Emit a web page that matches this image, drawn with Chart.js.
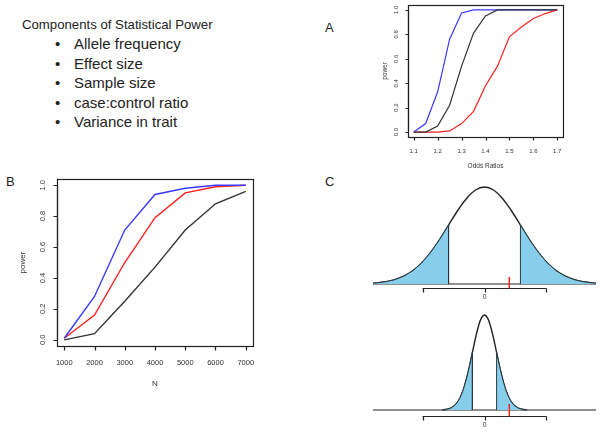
<!DOCTYPE html>
<html><head><meta charset="utf-8">
<script src="https://cdn.jsdelivr.net/npm/chart.js@4/dist/chart.umd.min.js"></script>
<style>
html,body{margin:0;padding:0;background:#fff;width:604px;height:436px;overflow:hidden;}
canvas{position:absolute;left:0;top:0;}
.t{position:absolute;font-family:"Liberation Sans",Arial,sans-serif;color:#222;white-space:nowrap;}
.b{position:absolute;left:0;}
.i{position:absolute;left:19px;}
</style></head><body>
<div class="t" style="left:22px;top:17px;font-size:13.2px;">Components of Statistical Power</div>
<div class="t" style="left:55px;top:35px;font-size:15px;">
<div class="b" style="top:0px">•</div><div class="i" style="top:0px">Allele frequency</div>
<div class="b" style="top:19.5px">•</div><div class="i" style="top:19.5px">Effect size</div>
<div class="b" style="top:39px">•</div><div class="i" style="top:39px">Sample size</div>
<div class="b" style="top:58.5px">•</div><div class="i" style="top:58.5px">case:control ratio</div>
<div class="b" style="top:78px">•</div><div class="i" style="top:78px">Variance in trait</div>
</div>
<div class="t" style="left:325px;top:20px;font-size:13px;">A</div>
<div class="t" style="left:6px;top:174px;font-size:13px;">B</div>
<div class="t" style="left:325px;top:174px;font-size:13px;">C</div>
<canvas id="cA" width="604" height="436"></canvas>
<canvas id="cB" width="604" height="436"></canvas>
<canvas id="cC1" width="604" height="436"></canvas>
<canvas id="cC2" width="604" height="436"></canvas>
<script>
// ---- Panel A data ----
const oddsRatios = [1.1,1.15,1.2,1.25,1.3,1.35,1.4,1.45,1.5,1.55,1.6,1.65,1.7];
const powerA_blue  = [0,0.07,0.33,0.76,0.975,1,1,1,1,1,1,1,1];
const powerA_black = [0,0,0.05,0.22,0.54,0.81,0.95,1,1,1,1,1,1];
const powerA_red   = [0,0,0,0.01,0.07,0.17,0.38,0.54,0.78,0.86,0.93,0.97,1];
const ticksA_x = [1.1,1.2,1.3,1.4,1.5,1.6,1.7];
const ticksA_y = [0,0.2,0.4,0.6,0.8,1.0];
// ---- Panel B data ----
const sampleN = [1000,2000,3000,4000,5000,6000,7000];
const powerB_blue  = [0.01,0.28,0.71,0.94,0.98,1.0,1.0];
const powerB_red   = [0.01,0.16,0.50,0.79,0.95,0.99,1.0];
const powerB_black = [0.0,0.04,0.25,0.47,0.71,0.88,0.96];
const ticksB_x = [1000,2000,3000,4000,5000,6000,7000];
const ticksB_y = [0,0.2,0.4,0.6,0.8,1.0];
// ---- Panel C data (relative density shape at z = -3.5..3.5) ----
const zGrid = [-3.5,-3.25,-3,-2.75,-2.5,-2.25,-2,-1.75,-1.5,-1.25,-1,-0.75,-0.5,-0.25,0,0.25,0.5,0.75,1,1.25,1.5,1.75,2,2.25,2.5,2.75,3,3.25,3.5];
const densityShape = [0.002,0.005,0.011,0.023,0.044,0.080,0.135,0.216,0.325,0.458,0.607,0.755,0.882,0.969,1,0.969,0.882,0.755,0.607,0.458,0.325,0.216,0.135,0.080,0.044,0.023,0.011,0.005,0.002];
const sdWide = 1.16, sdNarrow = 0.39;
const cutZ = 1;
const observedEffect = 0.8;
const ticksC_x = [-2,0,2];
const ticksC_labels = ['','0',''];

const FONT = '"Liberation Sans", Arial, sans-serif';

function rAxesPlugin(cfg){
  return {id:'raxes', afterDraw(chart){
    const ctx=chart.ctx, a=chart.chartArea, xs=chart.scales.x, ys=chart.scales.y;
    ctx.save();
    ctx.strokeStyle='#222'; ctx.lineWidth=1.2;
    ctx.strokeRect(Math.round(a.left)+0.5,Math.round(a.top)+0.5,Math.round(a.right-a.left),Math.round(a.bottom-a.top));
    ctx.fillStyle='#333'; ctx.font=cfg.font+'px '+FONT;
    ctx.textAlign='center'; ctx.textBaseline='middle';
    const b=Math.round(a.bottom)+0.5;
    ctx.beginPath();
    const x0=xs.getPixelForValue(cfg.xt[0]), x1=xs.getPixelForValue(cfg.xt[cfg.xt.length-1]);
    ctx.moveTo(x0,b+cfg.gap); ctx.lineTo(x1,b+cfg.gap);
    cfg.xt.forEach(v=>{const p=Math.round(xs.getPixelForValue(v))+0.5; ctx.moveTo(p,b+cfg.gap); ctx.lineTo(p,b+cfg.gap+cfg.tl);});
    const l=Math.round(a.left)+0.5;
    const y0=ys.getPixelForValue(cfg.yt[0]), y1=ys.getPixelForValue(cfg.yt[cfg.yt.length-1]);
    ctx.moveTo(l-cfg.gap,y0); ctx.lineTo(l-cfg.gap,y1);
    cfg.yt.forEach(v=>{const p=Math.round(ys.getPixelForValue(v))+0.5; ctx.moveTo(l-cfg.gap,p); ctx.lineTo(l-cfg.gap-cfg.tl,p);});
    ctx.stroke();
    cfg.xt.forEach(v=>{ctx.fillText(cfg.xfmt(v), xs.getPixelForValue(v), b+cfg.xlab);});
    cfg.yt.forEach(v=>{const p=ys.getPixelForValue(v); ctx.save(); ctx.translate(l-cfg.ylab,p); ctx.rotate(-Math.PI/2); ctx.fillText(v.toFixed(1),0,0); ctx.restore();});
    ctx.font=cfg.tfont+'px '+FONT;
    ctx.fillText(cfg.xtitle, (a.left+a.right)/2, b+cfg.xtitleOff);
    ctx.save(); ctx.translate(l-cfg.ytitleOff,(a.top+a.bottom)/2); ctx.rotate(-Math.PI/2); ctx.fillText('power',0,0); ctx.restore();
    ctx.restore();
  }};
}

function lineDS(xs,ys,color,w){
  return {data:xs.map((x,i)=>({x:x,y:ys[i]})),borderColor:color,borderWidth:w,pointRadius:0,showLine:true,tension:0,fill:false};
}

const baseOpts=(pad,xmin,xmax,ymin,ymax)=>({
  responsive:false,animation:false,devicePixelRatio:1,
  layout:{padding:pad},
  plugins:{legend:{display:false},tooltip:{enabled:false}},
  scales:{x:{type:'linear',display:false,min:xmin,max:xmax},y:{type:'linear',display:false,min:ymin,max:ymax}}
});

// Panel A
new Chart(document.getElementById('cA'),{
  type:'scatter',
  data:{datasets:[
    lineDS(oddsRatios,powerA_black,'#333',1.2),
    lineDS(oddsRatios,powerA_red,'#ff2020',1.2),
    lineDS(oddsRatios,powerA_blue,'#3a3aff',1.2)
  ]},
  options:baseOpts({left:408,top:5,right:604-563,bottom:436-137},1.076,1.724,-0.04,1.04),
  plugins:[rAxesPlugin({xt:ticksA_x,yt:ticksA_y,font:6,tfont:6.5,gap:0,tl:3,xlab:14,ylab:12,xtitle:'Odds Ratios',xtitleOff:29,ytitleOff:23,xfmt:v=>v.toFixed(1)})]
});

// Panel B
new Chart(document.getElementById('cB'),{
  type:'scatter',
  data:{datasets:[
    lineDS(sampleN,powerB_black,'#333',1.4),
    lineDS(sampleN,powerB_blue,'#3a3aff',1.4),
    lineDS(sampleN,powerB_red,'#ff2020',1.4)
  ]},
  options:baseOpts({left:57,top:179,right:604-253,bottom:436-346},760,7240,-0.04,1.04),
  plugins:[rAxesPlugin({xt:ticksB_x,yt:ticksB_y,font:7.5,tfont:8,gap:0,tl:4,xlab:16,ylab:15,xtitle:'N',xtitleOff:37,ytitleOff:35,xfmt:v=>String(v)})]
});

// Panel C
function normalChart(id,sd,pad,ymin,ymax,axisGap,redTop){
  const curve=zGrid.map((z,i)=>({x:z*sd,y:densityShape[i]}));
  const left=[], right=[];
  zGrid.forEach((z,i)=>{ if(z<=-cutZ) left.push({x:z*sd,y:densityShape[i]}); if(z>=cutZ) right.push({x:z*sd,y:densityShape[i]}); });
  left.push({x:-cutZ*sd,y:0}); right.unshift({x:cutZ*sd,y:0});
  const tail=d=>({data:d,showLine:true,tension:0,pointRadius:0,borderColor:'#2a3a40',borderWidth:1,backgroundColor:'#87ceeb',fill:'origin'});
  new Chart(document.getElementById(id),{
    type:'scatter',
    data:{datasets:[
      tail(left),tail(right),
      {data:[{x:-3.6,y:0},{x:3.6,y:0}],showLine:true,pointRadius:0,borderColor:'#222',borderWidth:1.2,fill:false},
      {data:curve,showLine:true,tension:0.4,pointRadius:0,borderColor:'#222',borderWidth:1.4,fill:false}
    ]},
    options:baseOpts(pad,-3.6,3.6,ymin,ymax),
    plugins:[{id:'caxis',afterDraw(chart){
      const ctx=chart.ctx, xs=chart.scales.x, ys=chart.scales.y;
      const base=ys.getPixelForValue(0);
      const ay=Math.round(base+axisGap)+0.5;
      ctx.save();
      ctx.strokeStyle='#222'; ctx.lineWidth=1.2;
      ctx.beginPath();
      ctx.moveTo(xs.getPixelForValue(ticksC_x[0]),ay); ctx.lineTo(xs.getPixelForValue(ticksC_x[ticksC_x.length-1]),ay);
      ticksC_x.forEach(v=>{const p=Math.round(xs.getPixelForValue(v))+0.5; ctx.moveTo(p,ay); ctx.lineTo(p,ay+4);});
      ctx.stroke();
      ctx.fillStyle='#333'; ctx.font='6.5px '+FONT; ctx.textAlign='center'; ctx.textBaseline='middle';
      ticksC_x.forEach((v,i)=>ctx.fillText(ticksC_labels[i],xs.getPixelForValue(v),ay+9));
      ctx.strokeStyle='#ff1a1a'; ctx.lineWidth=1.4;
      const rx=xs.getPixelForValue(observedEffect);
      ctx.beginPath(); ctx.moveTo(rx,base-redTop); ctx.lineTo(rx,ay); ctx.stroke();
      ctx.restore();
    }}]
  });
}
// top: baseline 284, peak 187
normalChart('cC1',sdWide,{left:373,right:604-596,top:180,bottom:436-290},-6/97,1+7/97,4,7);
// bottom: baseline 410, peak 315
normalChart('cC2',sdNarrow,{left:373,right:604-596,top:308,bottom:436-420},-10/95,1+7/95,6,6);
</script>
</body></html>
